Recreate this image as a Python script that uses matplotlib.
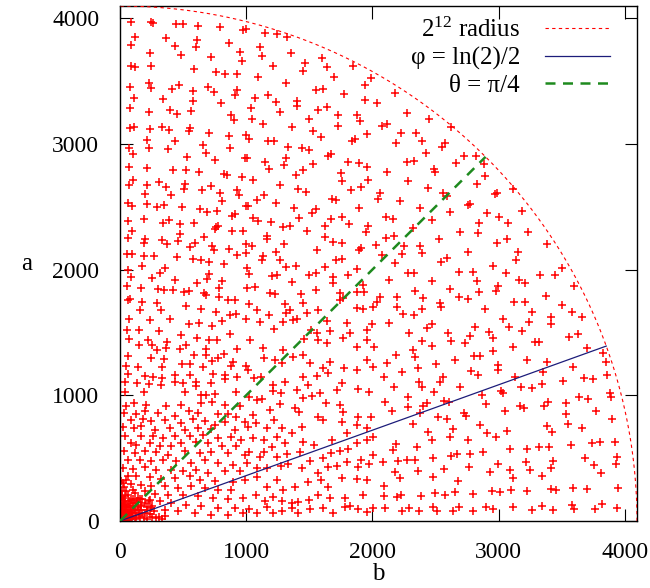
import numpy as np
import matplotlib
matplotlib.use("Agg")
import matplotlib.pyplot as plt
from matplotlib.lines import Line2D

# (b, a) samples, grouped by region of the quadrant
block_b0_a3 = [
    (84, 3966), (248, 3966), (264, 3958), (441, 3953), (499, 3953), (618, 3940),
    (795, 3926), (974, 3905), (995, 3913), (121, 3847), (367, 3839), (613, 3828),
    (861, 3799), (84, 3789), (433, 3775), (605, 3767), (240, 3720), (481, 3709),
    (953, 3728), (723, 3688), (969, 3661), (84, 3616), (121, 3608), (248, 3616),
    (589, 3592), (758, 3574), (834, 3555), (927, 3555), (79, 3449), (230, 3481),
    (248, 3444), (467, 3470), (409, 3436), (697, 3455), (578, 3423), (742, 3410),
    (908, 3391), (929, 3428), (111, 3367), (343, 3359), (576, 3343), (803, 3322),
    (79, 3285), (399, 3272), (227, 3250), (454, 3237), (560, 3258), (882, 3229),
    (903, 3189), (76, 3126), (108, 3136), (235, 3121), (330, 3131), (391, 3113),
    (552, 3123), (547, 3099), (702, 3086), (861, 3065), (1001, 3073), (216, 3030),
    (433, 3020),
]

block_b0_a2 = [
    (71, 2969), (227, 2964), (380, 2956), (657, 2990), (874, 2969), (105, 2921),
    (684, 2929), (533, 2895), (750, 2871), (993, 2884), (71, 2815), (211, 2810),
    (420, 2791), (520, 2791), (628, 2775), (824, 2757), (848, 2749), (966, 2736),
    (103, 2709), (69, 2669), (309, 2699), (216, 2669), (362, 2659), (512, 2683),
    (504, 2643), (723, 2664), (927, 2630), (652, 2630), (795, 2611), (201, 2603),
    (401, 2593), (940, 2593), (66, 2529), (98, 2505), (211, 2524), (296, 2497),
    (351, 2513), (494, 2500), (631, 2484), (692, 2457), (771, 2465), (811, 2545),
    (914, 2444), (887, 2426), (1001, 2505), (66, 2386), (193, 2399), (341, 2373),
    (388, 2391), (478, 2365), (584, 2373), (763, 2338), (779, 2343), (750, 2320),
    (92, 2309), (473, 2285), (887, 2304), (972, 2306), (66, 2248), (195, 2245),
    (190, 2208), (330, 2237), (372, 2200), (462, 2227), (597, 2211), (557, 2179),
    (668, 2259), (731, 2190), (745, 2152), (861, 2166), (996, 2205), (58, 2121),
    (92, 2121), (193, 2110), (272, 2110), (451, 2097), (581, 2081), (642, 2076),
    (705, 2060), (821, 2041), (929, 2113), (996, 2131), (177, 2028), (354, 2015),
]

block_b0_a1 = [
    (63, 1999), (84, 1940), (256, 1933), (314, 1975), (433, 1914), (610, 1895),
    (702, 1967), (689, 1927), (808, 1906), (58, 1866), (169, 1856), (301, 1848),
    (346, 1840), (420, 1840), (507, 1821), (547, 1826), (665, 1813), (679, 1795),
    (784, 1856), (782, 1781), (856, 1755), (908, 1755), (82, 1768), (63, 1755),
    (177, 1742), (293, 1734), (327, 1675), (525, 1707), (644, 1683), (763, 1662),
    (874, 1641), (922, 1649), (1001, 1604), (161, 1681), (71, 1609), (235, 1596),
    (393, 1604), (547, 1569), (623, 1577), (811, 1591), (731, 1548), (55, 1522),
    (150, 1522), (306, 1508), (486, 1477), (613, 1458), (874, 1485), (71, 1450),
    (224, 1442), (375, 1424), (705, 1437), (771, 1442), (927, 1371), (150, 1402),
    (256, 1397), (296, 1363), (362, 1378), (473, 1371), (525, 1402), (679, 1371),
    (584, 1318), (684, 1318), (824, 1325), (63, 1310), (248, 1299), (348, 1291),
    (494, 1251), (552, 1251), (731, 1272), (776, 1296), (895, 1264), (877, 1233),
    (50, 1230), (142, 1225), (333, 1225), (657, 1225), (1001, 1230), (63, 1166),
    (195, 1153), (261, 1145), (335, 1140), (438, 1158), (552, 1164), (737, 1166),
    (834, 1158), (929, 1145), (37, 1105), (135, 1100), (230, 1092), (322, 1079),
    (433, 1105), (605, 1105), (499, 1100), (605, 1074), (723, 1097), (829, 1132),
    (37, 1026), (187, 1026), (512, 1026), (644, 999), (684, 999), (750, 1013),
    (922, 1026),
]

block_b0_a0 = [
    (50, 912), (111, 938), (209, 925), (367, 917), (486, 925), (644, 938),
    (729, 944), (829, 925), (948, 912), (32, 859), (129, 854), (195, 872),
    (301, 859), (433, 838), (547, 872), (618, 859), (776, 854), (856, 854),
    (922, 827), (90, 806), (182, 811), (248, 793), (354, 801), (486, 779),
    (578, 811), (676, 793), (750, 766), (829, 785), (988, 785), (24, 748),
    (111, 740), (164, 753), (275, 726), (393, 740), (512, 721), (618, 740),
    (723, 732), (908, 726), (42, 679), (169, 673), (261, 673), (341, 660),
    (433, 679), (552, 673), (657, 687), (776, 660), (882, 668), (961, 647),
    (90, 620), (129, 607), (235, 620), (314, 599), (407, 599), (481, 620),
    (605, 626), (697, 620), (808, 594), (922, 594), (32, 554), (116, 541),
    (195, 554), (288, 546), (380, 528), (512, 554), (631, 541), (723, 546),
    (856, 541), (988, 528), (63, 488), (156, 488), (248, 475), (341, 488),
    (446, 475), (565, 461), (671, 488), (776, 461), (895, 448), (24, 421),
    (103, 414), (195, 429), (288, 403), (407, 408), (499, 395), (605, 403),
    (697, 382), (829, 395), (948, 395), (63, 355), (129, 361), (235, 350),
    (327, 334), (433, 342), (552, 355), (631, 323), (750, 315), (895, 308),
    (988, 323), (24, 302), (90, 297), (169, 289), (248, 276), (354, 276),
    (459, 262), (565, 276), (671, 262), (776, 249), (882, 249), (50, 236),
    (116, 223), (195, 236), (275, 217), (380, 209), (499, 209), (618, 196),
    (737, 183), (856, 175), (974, 183), (24, 183), (90, 170), (156, 175),
    (235, 164), (314, 156), (407, 143), (525, 130), (644, 117), (776, 103),
    (908, 103), (37, 130), (103, 122), (169, 117), (248, 103), (354, 90),
    (459, 77), (591, 64), (723, 50), (856, 50), (974, 64),
]

# crowded patch right at the origin
block_origin = [
    (15, 10), (30, 20), (50, 12), (10, 35), (25, 45), (60, 30), (80, 15),
    (40, 60), (70, 55), (100, 40), (20, 80), (55, 90), (90, 80), (120, 25),
    (130, 60), (15, 120), (45, 130), (80, 115), (110, 95), (150, 45),
    (160, 90), (35, 160), (75, 160), (120, 140), (170, 130), (190, 20),
    (200, 60), (12, 200), (60, 205), (140, 185), (210, 110), (250, 35),
    (230, 160), (270, 80), (100, 250), (310, 30), (5, 60), (8, 95),
    (25, 15), (45, 28), (65, 10), (95, 22), (130, 12), (160, 30), (215, 15),
    (240, 55), (285, 25), (330, 12), (360, 40), (12, 25), (20, 55), (35, 85),
    (12, 110), (28, 140), (15, 170), (40, 195), (18, 240), (30, 270),
    (10, 320), (45, 330), (55, 45), (75, 75), (95, 60), (115, 85),
    (140, 110), (60, 110), (85, 140), (105, 175), (135, 160), (175, 175),
    (195, 140), (215, 85), (250, 120), (175, 60), (145, 90), (70, 30),
    (50, 70), (105, 120),
]

block_b1_a3 = [
    (1148, 3879), (1246, 3873), (1325, 3852), (1106, 3767), (1122, 3701),
    (1352, 3722), (1212, 3622), (1465, 3643), (1603, 3683), (1642, 3608),
    (1846, 3622), (1452, 3582), (1096, 3534), (1695, 3529), (1312, 3484),
    (1938, 3470), (1986, 3523), (1550, 3431), (1608, 3436), (1774, 3396),
    (1069, 3364), (1172, 3388), (1238, 3335), (1405, 3338), (1399, 3303),
    (1938, 3351), (1035, 3285), (1265, 3250), (1568, 3269), (1642, 3290),
    (1729, 3229), (1880, 3232), (1898, 3184), (1048, 3197), (1133, 3158),
    (1497, 3197), (1365, 3136), (1729, 3144), (1531, 3105), (1589, 3057),
    (1959, 3078), (1022, 3038), (1172, 3020), (1220, 3025), (1840, 3025),
    (1861, 3038), (2034, 3322),
]

block_b1_a2 = [
    (1333, 2977), (1444, 2969), (1497, 2948), (1003, 2889), (1312, 2889),
    (1146, 2858), (1299, 2828), (1180, 2797), (1648, 2903), (1674, 2916),
    (1529, 2836), (1809, 2858), (1893, 2850), (1959, 2815), (1452, 2789),
    (1391, 2752), (1056, 2712), (1748, 2770), (1761, 2704), (1267, 2672),
    (1967, 2709), (1912, 2659), (1412, 2638), (1476, 2616), (1827, 2630),
    (1140, 2593), (1088, 2553), (1233, 2526), (1682, 2558), (1714, 2550),
    (1014, 2505), (1378, 2487), (1550, 2484), (1523, 2447), (1893, 2487),
    (1056, 2412), (1093, 2386), (1199, 2380), (1418, 2407), (1669, 2404),
    (1756, 2420), (1291, 2338), (1344, 2346), (1484, 2306), (1621, 2346),
    (1814, 2359), (1964, 2346), (1951, 2301), (1167, 2267), (1167, 2240),
    (1621, 2261), (1048, 2187), (1299, 2206), (1690, 2221), (1761, 2213),
    (1238, 2142), (1558, 2152), (1893, 2152), (1912, 2168), (1133, 2107),
    (1122, 2076), (1265, 2073), (1708, 2076), (1756, 2086), (1312, 2020),
    (1397, 2028), (1624, 2023), (1008, 2009), (1880, 2001), (2041, 2561),
    (2026, 2195),
]

block_b1_low = [
    (1025, 1962), (1202, 1949), (1242, 1957), (1360, 1904), (1498, 1957),
    (1550, 1975), (1685, 1943), (1685, 1896), (1809, 1957), (1928, 1877),
    (1004, 1851), (1070, 1864), (1189, 1811), (1228, 1803), (1308, 1723),
    (1432, 1803), (1453, 1737), (1553, 1837), (1743, 1811), (1770, 1771),
    (1875, 1824), (1936, 1824), (2034, 1745), (1025, 1726), (1083, 1678),
    (1183, 1639), (1315, 1657), (1347, 1678), (1374, 1599), (1479, 1657),
    (1566, 1678), (1643, 1591), (1743, 1758), (1875, 1697), (1928, 1684),
    (2007, 1705), (1109, 1586), (1220, 1525), (1289, 1586), (1400, 1604),
    (1511, 1519), (1558, 1498), (1664, 1511), (1801, 1572), (1823, 1493),
    (1955, 1519), (1999, 1567), (1030, 1440), (1136, 1379), (1294, 1360),
    (1461, 1445), (1572, 1440), (1638, 1419), (1770, 1453), (1875, 1381),
    (1955, 1440), (2013, 1381), (1141, 1294), (1228, 1281), (1286, 1254),
    (1368, 1307), (1448, 1320), (1506, 1254), (1611, 1214), (1664, 1267),
    (1778, 1214), (1955, 1281), (2007, 1222), (1017, 1201), (1062, 1135),
    (1115, 1148), (1210, 1082), (1308, 1108), (1453, 1148), (1487, 1082),
    (1558, 1156), (1651, 1175), (1756, 1095), (1875, 1201), (1976, 1029),
    (1025, 984), (1083, 963), (1215, 1037), (1273, 1016), (1405, 1042),
    (1453, 976), (1524, 994), (1585, 1016), (1717, 1042), (1889, 1047),
    (1057, 843), (1123, 968), (1189, 883), (1268, 931), (1387, 896),
    (1421, 870), (1566, 830), (1630, 936), (1743, 923), (1770, 870),
    (1889, 830), (1989, 830), (1017, 750), (1075, 777), (1162, 737),
    (1220, 804), (1286, 737), (1360, 698), (1440, 750), (1611, 804),
    (1762, 790), (1796, 698), (1875, 764), (1955, 737), (1057, 658),
    (1141, 644), (1202, 591), (1247, 671), (1308, 618), (1448, 631),
    (1540, 605), (1677, 644), (1875, 618), (1955, 644), (2007, 671),
    (1025, 552), (1109, 512), (1141, 552), (1242, 512), (1326, 531),
    (1426, 552), (1611, 499), (1669, 538), (1743, 560), (1809, 570),
    (1907, 485), (2007, 525), (1009, 464), (1083, 419), (1162, 424),
    (1273, 438), (1334, 451), (1440, 419), (1506, 480), (1572, 379),
    (1651, 432), (1717, 438), (1801, 472), (1889, 432), (1973, 454),
    (1083, 353), (1162, 273), (1242, 326), (1294, 247), (1387, 273),
    (1487, 313), (1590, 326), (1646, 273), (1756, 340), (1875, 332),
    (1955, 326), (1075, 207), (1149, 162), (1215, 194), (1281, 162),
    (1360, 141), (1413, 154), (1500, 167), (1572, 207), (1664, 181),
    (1783, 181), (1823, 120), (1928, 207), (1025, 93), (1083, 67),
    (1162, 114), (1215, 61), (1281, 82), (1360, 101), (1408, 61),
    (1506, 93), (1611, 101), (1685, 61), (1783, 109), (1889, 93),
    (1955, 75), (2007, 101),
]

block_b2_up = [
    (2179, 3401), (2271, 3247), (2451, 3197), (2620, 3136), (2073, 3141),
    (2113, 3157), (2226, 3083), (2345, 3083), (2395, 3024), (2187, 3008),
    (2575, 3003), (2554, 2971), (2422, 2929), (2726, 2905), (2818, 2905),
    (2113, 2772), (2271, 2852), (2332, 2863), (2488, 2799), (2496, 2772),
    (2662, 2844), (2884, 2839), (2892, 2743), (2279, 2703), (2438, 2645),
    (2562, 2611), (2588, 2584), (2826, 2677), (2060, 2605), (2218, 2547),
    (2377, 2486), (2615, 2454), (2755, 2513), (2773, 2518), (2910, 2446),
    (2971, 2597), (2987, 2605), (3116, 2637), (3182, 2468), (2108, 2415),
    (2166, 2401), (2475, 2393), (2319, 2327), (2694, 2301), (2844, 2367),
    (2834, 2287), (3003, 2415), (3077, 2372), (3230, 2295), (2108, 2248),
    (2174, 2269), (2250, 2189), (2377, 2187), (2395, 2128), (2530, 2240),
    (2755, 2142), (2990, 2208), (3064, 2242), (3135, 2075), (3156, 2142),
    (3380, 2200), (2073, 2115), (2232, 2123), (2179, 2049), (2543, 2062),
    (2588, 2089), (2958, 2030), (3499, 2009),
]

block_b2_low = [
    (2134, 1917), (2284, 1975), (2329, 1975), (2469, 1912), (2686, 1983),
    (2794, 1978), (2831, 1912), (3058, 1975), (3164, 1917), (3209, 1896),
    (3328, 1957), (3444, 1957), (2998, 1872), (3600, 1869), (2060, 1779),
    (2197, 1779), (2337, 1829), (2398, 1771), (2197, 1705), (2535, 1737),
    (2543, 1705), (2390, 1684), (2615, 1843), (2686, 1779), (2755, 1763),
    (2842, 1819), (2979, 1829), (3124, 1745), (3209, 1745), (3375, 1792),
    (3505, 1718), (3584, 1660), (3658, 1620), (3267, 1660), (3412, 1620),
    (3415, 1564), (3241, 1586), (2892, 1684), (2245, 1644), (2332, 1639),
    (2134, 1578), (2430, 1533), (2469, 1567), (2601, 1493), (2620, 1434),
    (2290, 1498), (2733, 1413), (2773, 1472), (2813, 1546), (2926, 1506),
    (2953, 1458), (3037, 1604), (3085, 1546), (3182, 1514), (3288, 1421),
    (3322, 1427), (3557, 1466), (3626, 1487), (2324, 1360), (2337, 1302),
    (2390, 1432), (2469, 1392), (2187, 1320), (2113, 1254), (2654, 1281),
    (2807, 1313), (2852, 1313), (2958, 1352), (2998, 1241), (3116, 1381),
    (3222, 1281), (3381, 1267), (3592, 1222), (3697, 1373), (3824, 1339),
    (3848, 1267), (2232, 1183), (2364, 1214), (2562, 1148), (2504, 1249),
    (2778, 1196), (2839, 1161), (2992, 1201), (3127, 1148), (3354, 1188),
    (3507, 1114), (3676, 1135), (3750, 1130), (3856, 1161), (2092, 1143),
    (2171, 1063), (2369, 1108), (2395, 1069), (2535, 1103), (2488, 1024),
    (2694, 1063), (2866, 1002), (3016, 1034), (3037, 1016), (3177, 1063),
    (3267, 1055), (3341, 1087), (3637, 984), (3705, 968), (3882, 1016),
    (3890, 989), (2284, 984), (2100, 949), (2403, 918), (2430, 936),
    (2570, 957), (2607, 944), (3771, 875), (2152, 878), (2284, 910),
    (2324, 769), (2377, 857), (2522, 825), (2588, 811), (2636, 732),
    (2728, 857), (2741, 835), (2897, 928), (3050, 878), (3169, 918),
    (3204, 902), (3362, 918), (3394, 949), (3534, 941), (3534, 849),
    (3552, 772), (3658, 743), (3896, 809), (2852, 764), (3381, 758),
    (3425, 711), (2187, 610), (2160, 565), (2351, 591), (2443, 711),
    (2469, 644), (2615, 666), (2760, 644), (2910, 703), (2979, 671),
    (3064, 719), (3090, 570), (3222, 570), (3322, 586), (3402, 586),
    (3571, 605), (3742, 618), (3803, 626), (3922, 631), (3684, 499),
    (3758, 446), (3935, 512), (3811, 379), (3927, 451), (2086, 467),
    (2205, 480), (2271, 485), (2337, 485), (2483, 504), (2623, 520),
    (2667, 530), (2773, 533), (2873, 546), (2570, 414), (2364, 398),
    (2181, 387), (2218, 340), (2483, 353), (2681, 321), (2768, 432),
    (2932, 393), (2998, 451), (3090, 406), (3111, 340), (3214, 467),
    (3248, 406), (3341, 358), (3433, 480), (3415, 419), (3943, 260),
    (2092, 279), (2092, 199), (2192, 194), (2224, 207), (2385, 202),
    (2496, 220), (2575, 207), (2654, 228), (2794, 215), (2945, 242),
    (3011, 228), (3098, 247), (3222, 242), (3415, 255), (3454, 247),
    (3587, 260), (3697, 255), (2100, 101), (2232, 80), (2292, 106),
    (2369, 82), (2483, 109), (2509, 82), (2641, 82), (2686, 114),
    (2794, 82), (2900, 114), (2958, 96), (3116, 114), (3262, 88),
    (3346, 122), (3428, 88), (3579, 127), (3597, 93), (3763, 96),
    (3816, 133), (3940, 101),
]

blocks = [block_b0_a3, block_b0_a2, block_b0_a1, block_b0_a0, block_origin,
          block_b1_a3, block_b1_a2, block_b1_low, block_b2_up, block_b2_low]

radius = 2 ** 12
phi = np.log(2) / 2
theta = np.pi / 4

plt.rcParams['font.family'] = ['Liberation Serif', 'DejaVu Serif']
plt.rcParams['mathtext.fontset'] = 'custom'
plt.rcParams['mathtext.rm'] = 'Liberation Serif'
plt.rcParams['mathtext.it'] = 'Liberation Serif:italic'

fig = plt.figure(figsize=(6.5, 5.88), dpi=100)
ax = fig.add_axes([120 / 650, 67 / 588, 517 / 650, 515 / 588])

pts = np.array([p for blk in blocks for p in blk], dtype=float)
ax.plot(pts[:, 0], pts[:, 1], linestyle='none', marker='+', color='#ff0000',
        markersize=5.5, markeredgewidth=1.1, zorder=2)

t = np.linspace(0, np.pi / 2, 400)
ax.plot(radius * np.cos(t), radius * np.sin(t), color='#ff0000', lw=0.8,
        dashes=(3, 3), zorder=3)
ax.plot([0, radius * np.cos(phi)], [0, radius * np.sin(phi)],
        color='#1c1c7a', lw=0.9, zorder=3)
ax.plot([0, radius * np.cos(theta)], [0, radius * np.sin(theta)],
        color='#1e8a1e', lw=1.8, dashes=(4, 3), zorder=3)

ax.set_xlim(0, radius)
ax.set_ylim(0, radius)
ticks = [0, 1000, 2000, 3000, 4000]
ax.set_xticks(ticks)
ax.set_yticks(ticks)
ax.tick_params(direction='in', length=9, width=0.8, top=True, right=True,
               labelsize=17, pad=15)
for s in ax.spines.values():
    s.set_linewidth(1.0)

ax.set_xlabel('b', fontsize=18, labelpad=0)
ax.set_ylabel('a', fontsize=18, rotation=0, labelpad=18, va='center')

handles = [
    Line2D([], [], color='#ff0000', lw=0.8, dashes=(3, 3)),
    Line2D([], [], color='#1c1c7a', lw=0.9),
    Line2D([], [], color='#1e8a1e', lw=1.8, dashes=(4, 3)),
]
labels = [r'$2^{12}$ radius', 'φ = ln(2)/2', 'θ = π/4']
ax.legend(handles, labels, loc='upper right', bbox_to_anchor=(0.948, 0.978),
          frameon=False, markerfirst=False, fontsize=18, handlelength=2.6,
          handletextpad=1.0, labelspacing=0.2, borderaxespad=0, borderpad=0)

fig.savefig('out.png', dpi=100)
